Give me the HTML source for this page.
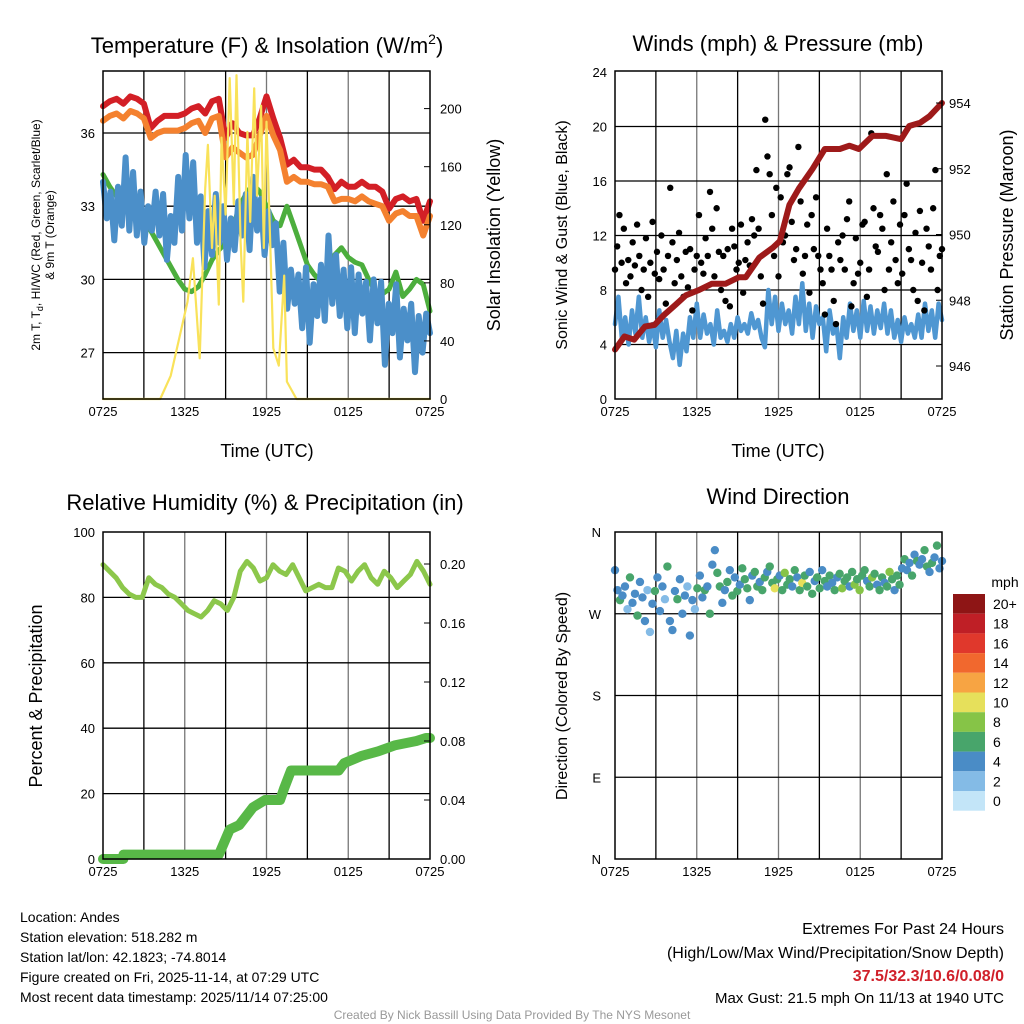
<!DOCTYPE html>
<html><head><meta charset="utf-8"><style>
html,body{margin:0;padding:0;background:#fff}
svg{display:block;font-family:"Liberation Sans",sans-serif}
</style></head><body>
<svg id="c" width="1024" height="1024" xmlns="http://www.w3.org/2000/svg"></svg>
<script>
// ---------- data ----------
const timeTicks = ["0725","1325","1925","0125","0725"];
const tempRed = [37.1,37.3,37.4,37.2,37.5,37.4,37.2,36.2,36.5,36.7,36.7,36.7,36.8,37.0,37.1,36.8,37.3,37.4,35.8,36.4,36.0,35.9,35.9,36.6,37.5,36.6,35.8,34.7,34.9,34.6,34.6,34.5,34.5,34.2,33.7,34.0,33.8,33.8,34.0,33.8,33.8,33.6,32.9,33.3,33.4,33.2,33.3,32.4,33.2];
const tempOrange = [36.5,36.7,36.8,36.6,36.9,36.8,36.6,35.8,36.0,36.1,36.1,36.1,36.2,36.4,36.5,36.0,36.6,36.7,35.0,35.4,35.2,35.0,35.1,35.9,36.7,35.9,35.3,34.0,34.2,34.0,34.0,33.9,33.9,33.8,33.2,33.3,33.3,33.2,33.4,33.2,33.1,33.0,32.4,32.7,32.8,32.6,32.6,31.8,32.6];
const tempGreen = [34.3,33.8,33.4,33.0,32.6,32.4,32.3,32.0,31.5,31.0,30.5,30.0,29.6,29.5,29.7,30.2,30.8,31.2,31.5,32.0,33.0,33.5,33.9,33.6,33.0,32.4,32.2,33.0,32.2,31.4,30.6,30.2,29.9,30.6,31.0,31.3,30.9,30.7,30.6,30.0,29.5,29.4,29.6,30.3,29.3,29.6,30.0,29.8,28.7];
const tempBlue = [34.0,32.5,33.6,31.6,33.8,32.2,35.0,32.0,34.4,31.8,33.6,31.5,33.0,32.0,33.6,31.8,33.5,30.8,32.6,31.5,34.2,32.0,35.1,32.5,34.8,31.5,33.4,30.5,32.8,31.0,33.5,31.5,33.0,30.8,32.5,31.2,33.2,31.8,33.5,31.2,34.2,32.0,33.3,31.0,32.8,31.4,32.3,29.5,31.5,28.8,30.4,29.0,30.2,28.0,30.5,27.4,29.8,28.5,30.6,28.3,31.8,29.0,31.0,28.5,30.4,28.0,30.5,27.8,30.2,28.6,29.9,27.5,30.0,28.2,29.9,26.5,29.0,27.8,29.8,26.8,28.8,27.5,29.0,26.2,28.5,27.0,28.6,27.8];
const solarHours = [0,4.2,4.97,5.6,6.2,6.6,7.1,7.5,7.7,8.0,8.2,8.5,8.7,9.0,9.3,9.6,9.8,10.1,10.3,10.6,10.8,11.1,11.3,11.6,11.8,12.0,12.3,12.5,12.9,13.3,13.5,14.2,24];
const solarValues = [0,0,16,42,67,97,28,145,175,104,140,65,180,127,221,134,223,108,67,184,122,214,140,202,104,191,99,35,23,85,12,0,0];
const windSpeed = [5.5,7.5,4.5,6.0,4.0,6.5,4.8,7.5,4.5,6.0,4.2,5.5,3.8,6.5,4.5,5.8,4.2,3.0,5.0,2.5,4.8,3.5,6.0,4.5,7.0,4.5,6.2,4.8,5.5,4.0,6.5,4.5,5.0,4.2,5.5,4.5,6.0,5.0,5.5,4.8,6.3,5.2,5.8,4.5,3.8,8.0,5.5,7.5,5.0,7.0,5.5,6.5,4.8,7.5,5.5,8.5,5.0,7.0,4.5,6.8,5.5,6.0,3.5,6.5,4.8,5.5,3.0,6.0,4.5,7.0,5.0,6.5,4.5,7.2,5.0,6.8,4.8,6.5,5.2,7.0,4.8,6.5,4.5,5.8,4.2,6.0,4.8,5.5,4.5,6.2,4.5,7.0,5.0,6.5,4.5,7.0,5.8];
const windGust = [9.5,11.2,13.5,10.0,12.5,8.5,10.2,9.0,11.5,9.8,12.8,10.5,8.0,9.5,11.8,7.5,10.0,13.0,9.2,10.8,8.8,12.0,9.5,7.0,10.5,15.5,11.5,8.5,10.2,12.2,9.0,7.5,10.8,8.2,11.0,6.5,9.5,10.5,13.5,10.0,9.2,11.8,10.5,15.2,12.5,9.0,14.0,10.8,8.0,10.5,7.2,11.0,6.8,12.5,11.2,9.5,10.0,12.8,7.8,10.2,11.5,9.8,13.2,12.0,16.8,12.5,9.0,7.0,20.5,17.8,16.5,13.5,10.5,15.5,9.0,14.8,11.5,12.0,16.5,17.0,13.0,10.2,11.0,18.5,14.5,9.2,10.5,12.8,7.8,13.5,11.0,14.8,10.5,9.5,8.5,6.2,12.5,10.5,9.5,7.2,5.5,11.5,10.2,12.0,9.5,13.2,14.5,6.8,8.5,11.8,9.2,10.0,12.8,13.0,7.5,9.5,19.5,14.0,11.2,10.8,13.5,12.5,8.0,16.5,9.5,11.5,14.5,10.2,8.5,12.8,9.2,13.5,15.8,11.0,10.2,8.0,12.2,7.2,13.8,10.0,6.5,12.5,11.2,9.5,14.0,16.8,8.0,10.5,11.0];
const pressHours = [0,0.7,1.4,2.2,2.9,3.6,4.4,5.2,6.1,7.1,8.1,9.1,9.6,10.6,11.6,12.1,12.8,13.5,14.5,15.4,16.5,17.2,17.9,18.9,19.9,21.0,21.6,22.4,23.1,24];
const pressValues = [946.5,946.9,946.8,947.2,947.25,947.55,947.85,948.15,948.3,948.5,948.5,948.7,948.7,949.3,949.6,949.8,950.9,951.4,952.0,952.6,952.6,952.7,952.6,953.0,953.0,952.9,953.3,953.4,953.6,954.0];
const rhValues = [90,88,86,83,81,80,80,86,84,83,81,80,78,76,75,74,76,79,78,76,80,88,91,89,85,86,90,88,87,90,86,82,83,84,83,83,89,88,85,88,90,86,84,88,86,83,85,87,91,88,84];
const precipHours = [0,1.5,1.5,8.5,8.6,9.3,10.0,11.0,11.9,13.0,13.3,13.8,17.3,17.7,19.0,20.2,21.4,23.0,23.7,24];
const precipValues = [0,0,0.003,0.003,0.005,0.02,0.023,0.035,0.04,0.04,0.048,0.06,0.06,0.065,0.07,0.073,0.077,0.08,0.082,0.082];
const dirValues = [318,296,285,290,300,275,310,282,292,268,305,288,262,296,250,281,295,310,273,300,286,322,262,252,295,286,308,270,290,300,246,285,275,298,312,288,296,300,270,324,340,315,300,282,296,305,318,290,310,295,302,320,308,298,285,312,316,300,305,296,310,316,322,304,298,308,312,296,315,302,308,300,318,310,296,304,312,300,316,292,306,310,298,318,306,300,312,304,296,310,314,298,306,310,300,316,302,308,296,312,318,306,300,310,314,302,296,310,304,300,316,308,296,312,302,320,330,318,326,312,335,328,324,330,340,322,316,326,332,345,320,328];
const dirSpeed = [4,4,6,4,4,2,6,4,4,7,4,4,4,3,3,4,6,4,4,4,2,7,4,4,4,6,4,4,4,3,4,4,2,6,4,4,6,4,7,4,4,6,6,4,4,6,4,6,4,6,4,6,7,6,4,4,6,6,4,6,7,4,6,7,10,6,4,6,9,7,6,4,6,4,6,10,7,6,4,6,4,7,6,4,6,4,6,4,6,4,7,8,7,6,4,6,8,7,8,6,7,4,6,8,6,4,7,6,4,6,8,6,4,6,7,4,6,4,4,6,4,6,4,4,6,6,4,7,4,6,4,4,7,6,4,7];
const barLabels = ["20+","18","16","14","12","10","8","6","4","2","0"];
const barColors = ["#8e1515","#bf1f26","#e0382c","#f1682e","#f7a443","#e6e05b","#86c447","#48a56b","#4a8cc6","#84bbe6","#c3e5f8"];

// ---------- helpers ----------
const svg = document.getElementById('c');
const NS = "http://www.w3.org/2000/svg";
function mk(tag, attrs, parent){
  const e = document.createElementNS(NS, tag);
  for (const k in attrs) e.setAttribute(k, attrs[k]);
  (parent||svg).appendChild(e);
  return e;
}
function txt(s, x, y, size, anchor, extra){
  const t = mk('text', Object.assign({x:x, y:y, 'font-size':size, 'text-anchor':anchor||'middle', fill:'#000'}, extra||{}));
  t.textContent = s;
  return t;
}
const X0=103, X1=430;
function sx(h){ return X0 + h/24*(X1-X0); }
function uni(arr){ return arr.map((v,i)=>i/(arr.length-1)*24); }

function frame(px, top, bottom, hLines, name){
  const g = mk('g', {});
  
  
  for (let k=1;k<8;k++){
    const x = px + k*(X1-X0)/8;
    mk('line',{x1:x,y1:top,x2:x,y2:bottom,stroke:k%2?'#000':'#777','stroke-width':1.3},g);
  }
  hLines.forEach(y=>mk('line',{x1:px,y1:y,x2:px+(X1-X0),y2:y,stroke:'#000','stroke-width':1.3},g));
  return g;
}
function border(px, top, bottom, name){
  const r = mk('rect',{x:px,y:top,width:X1-X0,height:bottom-top,fill:'none',stroke:'#000','stroke-width':1.5});
  
  
}
function xTicks(px, bottom, name){
  const g = mk('g',{});
  
  
  timeTicks.forEach((s,i)=>{
    const t = txt(s, px + i*(X1-X0)/4, bottom+17, 13, 'middle');
    g.appendChild(t);
  });
}
function poly(xs, ys, color, w, name){
  const p = mk('polyline',{points:xs.map((x,i)=>x.toFixed(1)+','+ys[i].toFixed(1)).join(' '),fill:'none',stroke:color,'stroke-width':w,'stroke-linejoin':'round','stroke-linecap':'round'});
  
  
  return p;
}

// ---------- Panel 1 ----------
const T1=71, B1=399;
function yT(v){ return 133 + (36-v)*24.4; }
function yS(v){ return 399 - v*1.452; }
frame(X0,T1,B1,[yT(36),yT(33),yT(30),yT(27)],'temp-grid');
poly(uni(tempRed).map(sx), tempRed.map(yT), '#d31f26', 6, 'temp-2m-red-line');
poly(uni(tempOrange).map(sx), tempOrange.map(yT), '#f4812f', 6, 'temp-9m-orange-line');
poly(uni(tempGreen).map(sx), tempGreen.map(yT), '#4cae3d', 5, 'dewpoint-green-line');
poly(uni(tempBlue).map(sx), tempBlue.map(yT), '#4b8fc9', 6, 'windchill-blue-line');
poly(solarHours.map(sx), solarValues.map(yS), '#f9e25a', 2.2, 'solar-yellow-line');
border(X0,T1,B1,'temp-plot-border');
[36,33,30,27].forEach(v=>txt(String(v), X0-8, yT(v)+5, 13, 'end'));
[0,40,80,120,160,200].forEach(v=>{ txt(String(v), X1+10, yS(v)+5, 13, 'start'); mk('line',{x1:X1-6,y1:yS(v),x2:X1,y2:yS(v),stroke:'#000'}); });
xTicks(X0,B1,'temp-x-ticks');
{const t=txt('', 267, 53, 22, 'middle');  
 t.innerHTML='Temperature (F) &amp; Insolation (W/m<tspan dy="-9" font-size="14">2</tspan><tspan dy="9">)</tspan>';}
{const t=txt('Time (UTC)', 267, 457, 18);  }
{const t=txt('', 0, 0, 12, 'middle', {transform:'translate(40,235) rotate(-90)'});  
 t.innerHTML='2m T, T<tspan dy="3" font-size="9">d</tspan><tspan dy="-3">, HI/WC (Red, Green, Scarlet/Blue)</tspan>';}
{const t=txt('& 9m T (Orange)', 0, 0, 12, 'middle', {transform:'translate(54,235) rotate(-90)'});  }
{const t=txt('Solar Insolation (Yellow)', 0, 0, 18, 'middle', {transform:'translate(500,235) rotate(-90)'});  }

// ---------- Panel 2 ----------
const P2=615, T2=71, B2=399;
function sx2(h){ return P2 + h/24*(X1-X0); }
function yW(v){ return 399 - v*13.625; }
function yP(v){ return 366 - (v-946)*32.875; }
frame(P2,T2,B2,[yW(4),yW(8),yW(12),yW(16),yW(20)],'wind-grid');
poly(uni(windSpeed).map(sx2), windSpeed.map(yW), '#4f97d2', 4.5, 'wind-speed-blue-line');
windGust.forEach((v,i)=>{
  const c = mk('circle',{cx:sx2(i/(windGust.length-1)*24),cy:yW(v),r:3.2,fill:'#000'});
  
  
});
poly(pressHours.map(sx2), pressValues.map(yP), '#9e1a1a', 6, 'pressure-maroon-line');
border(P2,T2,B2,'wind-plot-border');
[0,4,8,12,16,20,24].forEach(v=>txt(String(v), P2-8, yW(v)+5, 13, 'end'));
[946,948,950,952,954].forEach(v=>{ txt(String(v), 949, yP(v)+5, 13, 'start'); mk('line',{x1:P2+(X1-X0)-6,y1:yP(v),x2:P2+(X1-X0),y2:yP(v),stroke:'#000'}); });
xTicks(P2,B2,'wind-x-ticks');
{const t=txt('Winds (mph) & Pressure (mb)', 778, 51, 22);  }
{const t=txt('Time (UTC)', 778, 457, 18);  }
{const t=txt('Sonic Wind & Gust (Blue, Black)', 0, 0, 16, 'middle', {transform:'translate(567,235) rotate(-90)'});  }
{const t=txt('Station Pressure (Maroon)', 0, 0, 18, 'middle', {transform:'translate(1013,235) rotate(-90)'});  }

// ---------- Panel 3 ----------
const T3=532, B3=859;
function yR(v){ return 859 - v*3.27; }
function yPr(v){ return 859 - v*1475; }
frame(X0,T3,B3,[yR(20),yR(40),yR(60),yR(80)],'rh-grid');
poly(uni(rhValues).map(sx), rhValues.map(yR), '#8cc74b', 5, 'rh-line');
poly(precipHours.map(sx), precipValues.map(yPr), '#58b847', 10, 'precip-line');
border(X0,T3,B3,'rh-plot-border');
[0,20,40,60,80,100].forEach(v=>txt(String(v), X0-8, yR(v)+5, 13, 'end'));
[0,0.04,0.08,0.12,0.16,0.20].forEach(v=>{ txt(v.toFixed(2), X1+10, yPr(v)+5, 13, 'start'); mk('line',{x1:X1-6,y1:yPr(v),x2:X1,y2:yPr(v),stroke:'#000'}); });
xTicks(X0,B3,'rh-x-ticks');
{const t=txt('Relative Humidity (%) & Precipitation (in)', 265, 510, 22);  }
{const t=txt('Percent & Precipitation', 0, 0, 18, 'middle', {transform:'translate(42,696) rotate(-90)'});  }

// ---------- Panel 4 ----------
function yD(v){ return 859 - v*0.9083; }
frame(P2,T3,B3,[yD(270),yD(180),yD(90)],'direction-grid');
dirValues.forEach((d,i)=>{
  const bin = Math.min(10, Math.floor(dirSpeed[i]/2));
  const c = mk('circle',{cx:sx2(i/(dirValues.length-1)*24),cy:yD(d),r:4.2,fill:barColors[10-bin]});
  
  
});
border(P2,T3,B3,'direction-plot-border');
["N","W","S","E","N"].forEach((s,i)=>txt(s, P2-14, yD(360-i*90)+5, 13, 'end'));
xTicks(P2,B3,'direction-x-ticks');
{const t=txt('Wind Direction', 778, 504, 22);  }
{const t=txt('Direction (Colored By Speed)', 0, 0, 16, 'middle', {transform:'translate(567,696) rotate(-90)'});  }
// colorbar
{const t=txt('mph', 1005, 587, 14);  }
barLabels.forEach((s,i)=>{
  const r = mk('rect',{x:953,y:594+i*19.7,width:32,height:19.7,fill:barColors[i]});
  
  
  txt(s, 993, 594+i*19.7+15, 14, 'start');
});

// ---------- footer ----------
const info = ["Location: Andes","Station elevation: 518.282 m","Station lat/lon: 42.1823; -74.8014","Figure created on Fri, 2025-11-14, at 07:29 UTC","Most recent data timestamp: 2025/11/14 07:25:00"];
info.forEach((s,i)=>{ const t=txt(s, 20, 922+i*20, 14, 'start');   });
{const t=txt('Extremes For Past 24 Hours', 1004, 934, 16, 'end');  }
{const t=txt('(High/Low/Max Wind/Precipitation/Snow Depth)', 1004, 958, 16, 'end');  }
{const t=txt('37.5/32.3/10.6/0.08/0', 1004, 981, 16, 'end', {fill:'#d0202a','font-weight':'bold'});  }
{const t=txt('Max Gust: 21.5 mph On 11/13 at 1940 UTC', 1004, 1003, 15, 'end');  }
{const t=txt('Created By Nick Bassill Using Data Provided By The NYS Mesonet', 512, 1019, 12, 'middle', {fill:'#999'});  }
</script>
</body></html>
